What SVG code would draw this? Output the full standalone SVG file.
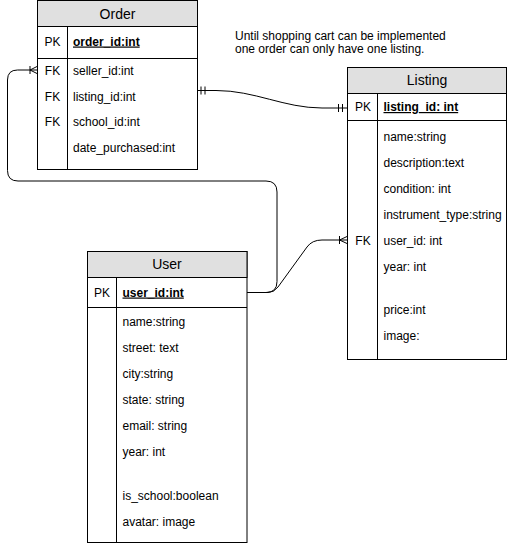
<svg xmlns="http://www.w3.org/2000/svg" width="508" height="545" viewBox="0 0 508 545">
<style>
text{font-family:"Liberation Sans",Arial,Helvetica,sans-serif;font-size:12px;fill:#000}
.title{font-size:14px;text-anchor:middle}
.key{text-anchor:middle}
.pk{font-weight:bold;text-decoration:underline}
.box{fill:#fff;stroke:#000;stroke-width:1}
.head{fill:#e0e0e0;stroke:#000;stroke-width:1}
.ln{stroke:#000;stroke-width:1;fill:none}
.edge{stroke:#000;stroke-width:1;fill:none}
</style>
<rect width="508" height="545" fill="#fff"/>
<g id="connectors">
  <!-- Order.seller_id -> User.user_id -->
  <path class="edge" d="M247 292.5 L266 292.5 Q277 292.5 277 281.5 L277 192 Q277 181 266 181 L18 181 Q7.5 181 7.5 170.5 L7.5 80 Q7.5 70 17.5 70 L37 70"/>
  <path class="edge" d="M30 66 L30 74 M30 70 L37 66.5 M30 70 L37 73.5"/>
  <!-- Order.listing_id -> Listing.listing_id -->
  <path class="edge" d="M197 90.5 L216 90.5 C255 90.5 284 108 322 108 L347 108"/>
  <path class="edge" d="M201 86.5 L201 94.5 M205 86.5 L205 94.5 M338.5 104 L338.5 112 M342.5 104 L342.5 112"/>
  <!-- User.user_id -> Listing.user_id -->
  <path class="edge" d="M247 292.5 L268 292.5 Q274 292.5 278 287 L307 247 Q312 240 322 240 L347 240"/>
  <path class="edge" d="M339.5 236 L339.5 244 M339.5 240 L347 236.5 M339.5 240 L347 243.5"/>
</g>
<g id="note">
  <text x="235" y="40">Until shopping cart can be implemented</text>
  <text x="235" y="53">one order can only have one listing.</text>
</g>
<g id="order">
  <rect class="box" x="37.5" y="0.5" width="160" height="169"/>
  <rect class="head" x="37.5" y="0.5" width="160" height="26"/>
  <line class="ln" x1="37.5" y1="58.5" x2="197.5" y2="58.5"/>
  <line class="ln" x1="67.5" y1="26.5" x2="67.5" y2="169.5"/>
  <text class="title" x="117.5" y="18.5">Order</text>
  <text class="key" x="52.5" y="45.5">PK</text>
  <text class="pk" x="73" y="45.5">order_id:int</text>
  <text class="key" x="52.5" y="75">FK</text>
  <text x="73" y="75">seller_id:int</text>
  <text class="key" x="52.5" y="100.5">FK</text>
  <text x="73" y="100.5">listing_id:int</text>
  <text class="key" x="52.5" y="126">FK</text>
  <text x="73" y="126">school_id:int</text>
  <text x="73" y="151.5">date_purchased:int</text>
</g>
<g id="listing">
  <rect class="box" x="347.5" y="67.5" width="159" height="292"/>
  <rect class="head" x="347.5" y="67.5" width="159" height="26"/>
  <line class="ln" x1="347.5" y1="120.5" x2="506.5" y2="120.5"/>
  <line class="ln" x1="377.5" y1="93.5" x2="377.5" y2="359.5"/>
  <text class="title" x="427" y="85">Listing</text>
  <text class="key" x="363" y="111">PK</text>
  <text class="pk" x="383.5" y="111">listing_id: int</text>
  <text x="383.5" y="141">name:string</text>
  <text x="383.5" y="167">description:text</text>
  <text x="383.5" y="193">condition: int</text>
  <text x="383.5" y="219">instrument_type:string</text>
  <text class="key" x="363" y="244.5">FK</text>
  <text x="383.5" y="244.5">user_id: int</text>
  <text x="383.5" y="270.5">year: int</text>
  <text x="383.5" y="314">price:int</text>
  <text x="383.5" y="340">image:</text>
</g>
<g id="user">
  <rect class="box" x="87.5" y="251.5" width="159.5" height="291"/>
  <rect class="head" x="87.5" y="251.5" width="159.5" height="26"/>
  <line class="ln" x1="87.5" y1="307.5" x2="247" y2="307.5"/>
  <line class="ln" x1="116.5" y1="277.5" x2="116.5" y2="542.5"/>
  <text class="title" x="167" y="269">User</text>
  <text class="key" x="102" y="296.5">PK</text>
  <text class="pk" x="122.5" y="296.5">user_id:int</text>
  <text x="122.5" y="325.5">name:string</text>
  <text x="122.5" y="351.5">street: text</text>
  <text x="122.5" y="377.5">city:string</text>
  <text x="122.5" y="403.5">state: string</text>
  <text x="122.5" y="429.5">email: string</text>
  <text x="122.5" y="455.5">year: int</text>
  <text x="122.5" y="499.5">is_school:boolean</text>
  <text x="122.5" y="525.5">avatar: image</text>
</g>
</svg>
